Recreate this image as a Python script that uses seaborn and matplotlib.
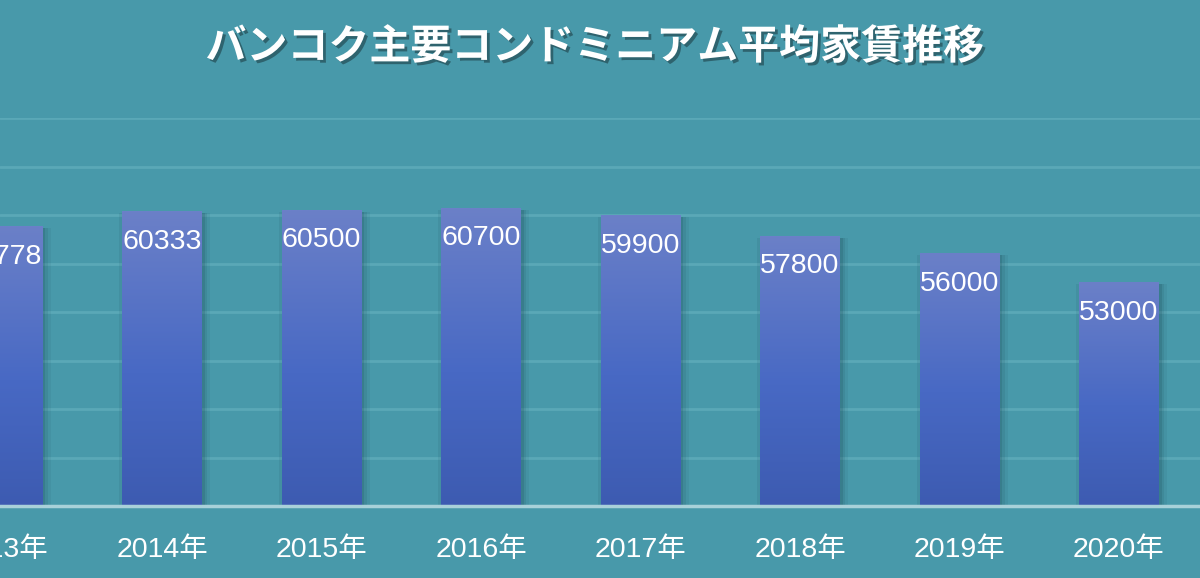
import numpy as np
import pandas as pd
import matplotlib
matplotlib.use("Agg")
import matplotlib.pyplot as plt
import matplotlib.patheffects as pe
from matplotlib.colors import LinearSegmentedColormap
import seaborn as sns

# data
years = ["2013年", "2014年", "2015年", "2016年", "2017年", "2018年", "2019年", "2020年"]
rents = [58778, 60333, 60500, 60700, 59900, 57800, 56000, 53000]
title = "バンコク主要コンドミニアム平均家賃推移"

bg = "#4899aa"
grid_col = "#5aa8b7"
base_col = "#a8d1d9"
y_low, y_high = 30000, 70000

sns.set_theme(style="white")
plt.rcParams['font.family'] = ['Liberation Sans', 'Noto Sans CJK JP', 'DejaVu Sans']

df = pd.DataFrame({"year": years, "rent": rents})

fig = plt.figure(figsize=(12, 5.78), dpi=100, facecolor=bg)
ax = fig.add_axes([0, 72 / 578, 1, 388 / 578])
ax.set_facecolor(bg)

sns.barplot(data=df, x="year", y="rent", order=years, width=0.5,
            color="#3d5bb1", saturation=1, linewidth=0, ax=ax, zorder=3)

ax.set_yticks(np.arange(35000, 70001, 5000))
ax.yaxis.grid(True, color=grid_col, linewidth=2)
ax.set_axisbelow(True)
ax.tick_params(axis="y", left=False, labelleft=False)
ax.tick_params(axis="x", bottom=False, labelsize=20.5, labelcolor="white", pad=16)
for lab in ax.get_xticklabels():
    lab.set_fontfamily(['Liberation Sans', 'Noto Sans CJK JP'])
ax.set_xlabel("")
ax.set_ylabel("")
for s in ["top", "left", "right"]:
    ax.spines[s].set_visible(False)
ax.spines["bottom"].set_color(base_col)
ax.spines["bottom"].set_linewidth(2.5)
ax.spines["bottom"].set_zorder(5)

# gradient fill for bars, plus a soft shadow
cmap = LinearSegmentedColormap.from_list(
    "bar", [(0, "#3d5bb1"), (0.45, "#4869c4"), (1, "#6b80c8")])
grad = np.linspace(0, 1, 256).reshape(-1, 1)
shadow = [pe.SimplePatchShadow(offset=(dx, -1), shadow_rgbFace="#1d4a55", alpha=a)
          for dx, a in [(6, 0.08), (4, 0.12), (2, 0.18), (-2, 0.1)]]
for p in ax.patches:
    x, w, h = p.get_x(), p.get_width(), p.get_height()
    p.set_path_effects(shadow + [pe.Normal()])
    ax.imshow(grad, cmap=cmap, origin="lower", aspect="auto",
              extent=[x, x + w, y_low, h], zorder=3.5)
    ax.text(x + w / 2, h - 3100, f"{int(h)}", ha="center", va="center",
            color="white", fontsize=20.5, zorder=6, family="Liberation Sans")

ax.set_xlim(-0.016, 7.508)
ax.set_ylim(y_low, y_high)

fig.text(595 / 1200, 1 - 47 / 578, title, ha="center", va="center", color="white",
         fontsize=29.5, fontweight="bold", family=['Noto Sans CJK JP', 'DejaVu Sans'],
         path_effects=[pe.withSimplePatchShadow(offset=(2, -2), shadow_rgbFace="black", alpha=0.35)])

fig.savefig("out.png", dpi=100, facecolor=bg)
